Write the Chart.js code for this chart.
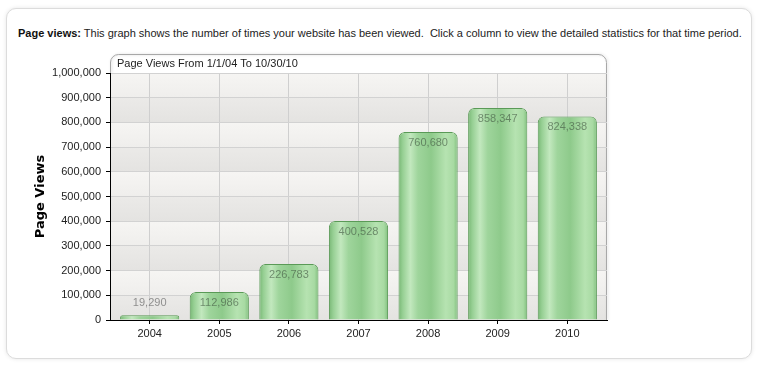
<!DOCTYPE html>
<html>
<head>
<meta charset="utf-8">
<script src="https://cdn.jsdelivr.net/npm/chart.js@4"></script>
<style>
  body { margin: 0; background: #fff; font-family: "Liberation Sans", Arial, sans-serif; }
  #panel {
    position: absolute; left: 6px; top: 8px; width: 744px; height: 349px;
    border: 1px solid #dcdcdc; border-radius: 10px;
    box-shadow: 0 0 4px rgba(0,0,0,0.10);
    background: #fff;
  }
  #desc {
    position: absolute; left: 18px; top: 27px; font-size: 11px; color: #222;
    white-space: nowrap;
  }
  #desc b { color: #111; }
  #wrap { position: absolute; left: 0; top: 0; width: 759px; height: 365px; }
</style>
</head>
<body>
<div id="panel"></div>
<div id="desc"><b>Page views:</b> This graph shows the number of times your website has been viewed.&nbsp; Click a column to view the detailed statistics for that time period.</div>
<div id="wrap"><canvas id="chart"></canvas></div>
<script>
const years = ['2004', '2005', '2006', '2007', '2008', '2009', '2010'];
const pageViews = [19290, 112986, 226783, 400528, 760680, 858347, 824338];
const chartTitle = 'Page Views From 1/1/04 To 10/30/10';
const yTitle = 'Page Views';

// plot background bands + header strip
const frame = {
  id: 'frame',
  beforeDraw(chart) {
    const { ctx, chartArea: a, scales } = chart;
    const y = scales.y;
    ctx.save();
    y.ticks.forEach((t, i) => {
      if (i === y.ticks.length - 1) return;
      const y0 = y.getPixelForValue(t.value);
      const y1 = y.getPixelForValue(y.ticks[i + 1].value);
      const g = ctx.createLinearGradient(0, y1, 0, y0);
      if (i % 2 === 0) {
        g.addColorStop(0, '#ebeae8');
        g.addColorStop(1, '#e4e3e1');
      } else {
        g.addColorStop(0, '#f6f5f3');
        g.addColorStop(1, '#efeeec');
      }
      ctx.fillStyle = g;
      ctx.fillRect(a.left, y1, a.right - a.left, y0 - y1);
    });

    // header box with rounded top corners
    const top = a.top - 19, r = 8;
    const outline = () => {
      ctx.beginPath();
      ctx.moveTo(a.left + 0.5, a.top);
      ctx.lineTo(a.left + 0.5, top + r);
      ctx.arcTo(a.left + 0.5, top + 0.5, a.left + r, top + 0.5, r);
      ctx.lineTo(a.right - r, top + 0.5);
      ctx.arcTo(a.right - 0.5, top + 0.5, a.right - 0.5, top + r, r);
      ctx.lineTo(a.right - 0.5, a.top);
    };
    outline();
    ctx.closePath();
    ctx.fillStyle = '#fff';
    ctx.fill();
    ctx.shadowColor = 'rgba(0,0,0,0.18)';
    ctx.shadowBlur = 3;
    ctx.shadowOffsetX = 1;
    ctx.strokeStyle = '#a8a8a8';
    ctx.lineWidth = 1;
    outline();
    ctx.lineTo(a.right - 0.5, a.bottom);
    ctx.stroke();
    ctx.shadowColor = 'transparent';
    ctx.beginPath();
    ctx.moveTo(a.left, a.top + 0.5);
    ctx.lineTo(a.right, a.top + 0.5);
    ctx.strokeStyle = '#c8c8c8';
    ctx.stroke();

    ctx.fillStyle = '#222';
    ctx.font = '11px "Liberation Sans", Arial, sans-serif';
    ctx.textBaseline = 'middle';
    ctx.fillText(chartTitle, a.left + 7, top + 10);
    ctx.restore();
  }
};

// glossy cylinder fill for each bar
const gloss = {
  id: 'gloss',
  beforeDatasetsDraw(chart) {
    const { ctx } = chart;
    chart.getDatasetMeta(0).data.forEach(bar => {
      const x0 = bar.x - bar.width / 2, x1 = bar.x + bar.width / 2;
      const g = ctx.createLinearGradient(x0, 0, x1, 0);
      g.addColorStop(0, '#78b775');
      g.addColorStop(0.07, '#96cf93');
      g.addColorStop(0.2, '#c2e8be');
      g.addColorStop(0.33, '#9fd59c');
      g.addColorStop(0.55, '#8eca8b');
      g.addColorStop(0.8, '#b6e3b1');
      g.addColorStop(0.93, '#a8daa3');
      g.addColorStop(1, '#80bf7d');
      bar.options = Object.assign({}, bar.options, { backgroundColor: g });
    });
  },
  afterDatasetsDraw(chart) {
    const { ctx } = chart;
    ctx.save();
    ctx.font = '11px "Liberation Sans", Arial, sans-serif';
    ctx.textAlign = 'center';
    ctx.textBaseline = 'middle';
    chart.getDatasetMeta(0).data.forEach((bar, i) => {
      const h = bar.base - bar.y;
      let ly, col;
      if (h < 22) { ly = bar.y - 12; col = 'rgba(120,120,120,0.8)'; }
      else { ly = bar.y + 11; col = 'rgba(60,80,60,0.6)'; }
      ctx.fillStyle = col;
      ctx.fillText(pageViews[i].toLocaleString('en-US'), bar.x, ly);
    });
    ctx.restore();
  }
};

new Chart(document.getElementById('chart'), {
  type: 'bar',
  data: {
    labels: years,
    datasets: [{
      data: pageViews,
      backgroundColor: '#a3d8a0',
      borderColor: '#5a9a57',
      borderWidth: 1,
      borderRadius: { topLeft: 6, topRight: 6 },
      borderSkipped: 'bottom',
      barPercentage: 0.85,
      categoryPercentage: 1
    }]
  },
  options: {
    responsive: true,
    maintainAspectRatio: false,
    animation: false,
    layout: { padding: { left: 0, top: 73, right: 152, bottom: 25 } },
    plugins: { legend: { display: false }, tooltip: { enabled: false } },
    scales: {
      x: {
        type: 'linear',
        offset: false,
        min: 2003.43,
        max: 2010.57,
        afterBuildTicks: s => { s.ticks = years.map(v => ({ value: +v })); },
        afterFit: s => { s.height = 20; },
        grid: { offset: false, color: '#cfcfcf', tickColor: '#000', tickLength: 4 },
        border: { color: '#000', width: 1 },
        ticks: {
          padding: 3,
          color: '#222',
          font: { family: '"Liberation Sans", Arial, sans-serif', size: 11 },
          callback: v => String(v)
        }
      },
      y: {
        min: 0,
        max: 1000000,
        afterFit: s => { s.width = 110; },
        grid: { color: '#d2d2d2', tickColor: '#000', tickLength: 4 },
        border: { color: '#000', width: 1 },
        ticks: {
          stepSize: 100000,
          padding: 5,
          color: '#222',
          font: { family: '"Liberation Sans", Arial, sans-serif', size: 11 },
          callback: v => v.toLocaleString('en-US')
        },
        title: {
          display: true,
          text: yTitle,
          color: '#000',
          padding: { top: 33, bottom: 0 },
          font: { family: '"DejaVu Sans", Verdana, sans-serif', size: 13, weight: 'bold' }
        }
      }
    }
  },
  plugins: [frame, gloss]
});
</script>
</body>
</html>
